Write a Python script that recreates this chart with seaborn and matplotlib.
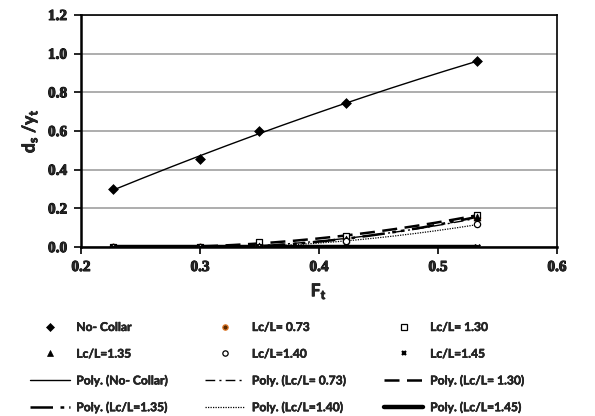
import numpy as np
import pandas as pd
import matplotlib
matplotlib.use("Agg")
import matplotlib.pyplot as plt
import matplotlib.patheffects as pe
from matplotlib.lines import Line2D
from matplotlib.font_manager import FontProperties
import seaborn as sns

# Froude number of the flow at the pier
ft = [0.227, 0.30, 0.35, 0.423, 0.533]

# Relative scour depth ds/yt for each collar length ratio
no_collar = [0.30, 0.455, 0.60, 0.745, 0.96]
lc_073 = [0.0, 0.0, 0.005, 0.045, 0.15]
lc_130 = [0.0, 0.0, 0.024, 0.058, 0.165]
lc_135 = [0.0, 0.0, 0.004, 0.040, 0.158]
lc_140 = [0.0, 0.0, 0.002, 0.030, 0.117]
lc_145 = [0.0, 0.0, 0.0, 0.0, 0.0]

names = ["No- Collar", "Lc/L= 0.73", "Lc/L= 1.30", "Lc/L=1.35", "Lc/L=1.40", "Lc/L=1.45"]
series = [no_collar, lc_073, lc_130, lc_135, lc_140, lc_145]

x_ticks = [0.2, 0.3, 0.4, 0.5, 0.6]
y_ticks = [0.0, 0.2, 0.4, 0.6, 0.8, 1.0, 1.2]

sns.set_theme(style="white")
plt.rcParams["font.family"] = ["Lato", "DejaVu Sans"]

fig = plt.figure(figsize=(5.95, 4.16), dpi=100)
ax = fig.add_axes([0.136, 0.406, 0.800, 0.558])

# marker style per series: (marker, size, face, edge, edge width)
marker_styles = [
    ("D", 5.0, "black", "black", 0.5),
    ("o", 4.5, "#5a2a00", "#e07828", 0.9),
    ("s", 4.5, "white", "black", 0.9),
    ("^", 5.0, "black", "black", 0.5),
    ("o", 4.5, "white", "black", 0.9),
    ("x", 4.0, "black", "black", 1.6),
]
# trendline style per series: (dash pattern, width)
line_styles = [
    (None, 1.0),
    ((0, (7, 3, 1.5, 3)), 1.0),
    ((0, (6, 3)), 1.8),
    ((0, (9, 3, 1.5, 2, 1.5, 3)), 1.8),
    ((0, (1, 1)), 0.9),
    (None, 3.2),
]

# Second-order polynomial trendlines
x_fit = np.linspace(min(ft), max(ft), 200)
for vals, (ls, lw) in zip(series, line_styles):
    coef = np.polyfit(ft, vals, 2)
    fit_df = pd.DataFrame({"x": x_fit, "y": np.polyval(coef, x_fit)})
    sns.lineplot(data=fit_df, x="x", y="y", ax=ax, color="black",
                 linewidth=lw, linestyle=ls if ls is not None else "-",
                 legend=False, zorder=3)

for vals, (m, s, fc, ec, ew) in zip(series, marker_styles):
    pts = pd.DataFrame({"x": ft, "y": vals})
    sns.scatterplot(data=pts, x="x", y="y", ax=ax, marker=m, s=s ** 2,
                    color=fc, edgecolor=ec, linewidth=ew, legend=False, zorder=4)

ax.set_xlim(0.2, 0.6)
ax.set_ylim(0.0, 1.2)
tick_fp = FontProperties(family="Liberation Serif", weight="bold", size=11)
heavy = [pe.withStroke(linewidth=0.7, foreground="black")]
ax.set_xticks(x_ticks)
ax.set_xticklabels([f"{v:.1f}" for v in x_ticks], fontproperties=tick_fp)
ax.set_yticks(y_ticks)
ax.set_yticklabels([f"{v:.1f}" for v in y_ticks], fontproperties=tick_fp)
for lab in ax.get_xticklabels() + ax.get_yticklabels():
    lab.set_path_effects(heavy)
ax.yaxis.grid(True, color="#a0a0a0", linewidth=1.2)
ax.xaxis.grid(False)
ax.set_axisbelow(True)

for side in ["left", "bottom"]:
    ax.spines[side].set_linewidth(1.8)
    ax.spines[side].set_color("black")
for side in ["top", "right"]:
    ax.spines[side].set_linewidth(1.2)
    ax.spines[side].set_color("black")
ax.spines["left"].set_zorder(5)
ax.spines["bottom"].set_zorder(5)

ax.tick_params(axis="both", which="major", direction="out", length=5, width=1.2,
               color="black", bottom=True, left=True, pad=5)

label_fx = [pe.withStroke(linewidth=0.5, foreground="black")]
ax.set_xlabel(r"F$_\mathregular{t}$", fontsize=12.5, fontweight="bold", labelpad=6,
              path_effects=label_fx)
ax.set_ylabel(r"d$_\mathregular{s}$ /y$_\mathregular{t}$", fontsize=12.5,
              fontweight="bold", labelpad=6, path_effects=label_fx)

# Legend: markers first, then the polynomial trendlines
marker_handles = [Line2D([], [], linestyle="none", marker=m, markersize=s * 0.85,
                         markerfacecolor=fc, markeredgecolor=ec, markeredgewidth=ew)
                  for (m, s, fc, ec, ew) in marker_styles]
line_handles = [Line2D([], [], color="black", linewidth=lw,
                       linestyle=ls if ls is not None else "-")
                for (ls, lw) in line_styles]
poly_names = [f"Poly. ({n})" for n in names]

handles = marker_handles + line_handles
labels = names + poly_names
# reorder so that entries read row by row in three columns
order = [0, 3, 6, 9, 1, 4, 7, 10, 2, 5, 8, 11]
leg = fig.legend([handles[i] for i in order], [labels[i] for i in order],
                 loc="upper left", bbox_to_anchor=(0.050, 0.226), ncol=3,
                 frameon=False, prop={"family": "Lato", "weight": "bold", "size": 8.7},
                 handlelength=3.3, handletextpad=0.55, columnspacing=3.05,
                 labelspacing=1.30, borderaxespad=0, borderpad=0)
for txt in leg.get_texts():
    txt.set_path_effects([pe.withStroke(linewidth=0.35, foreground="black")])

fig.savefig("out.png", dpi=100)
